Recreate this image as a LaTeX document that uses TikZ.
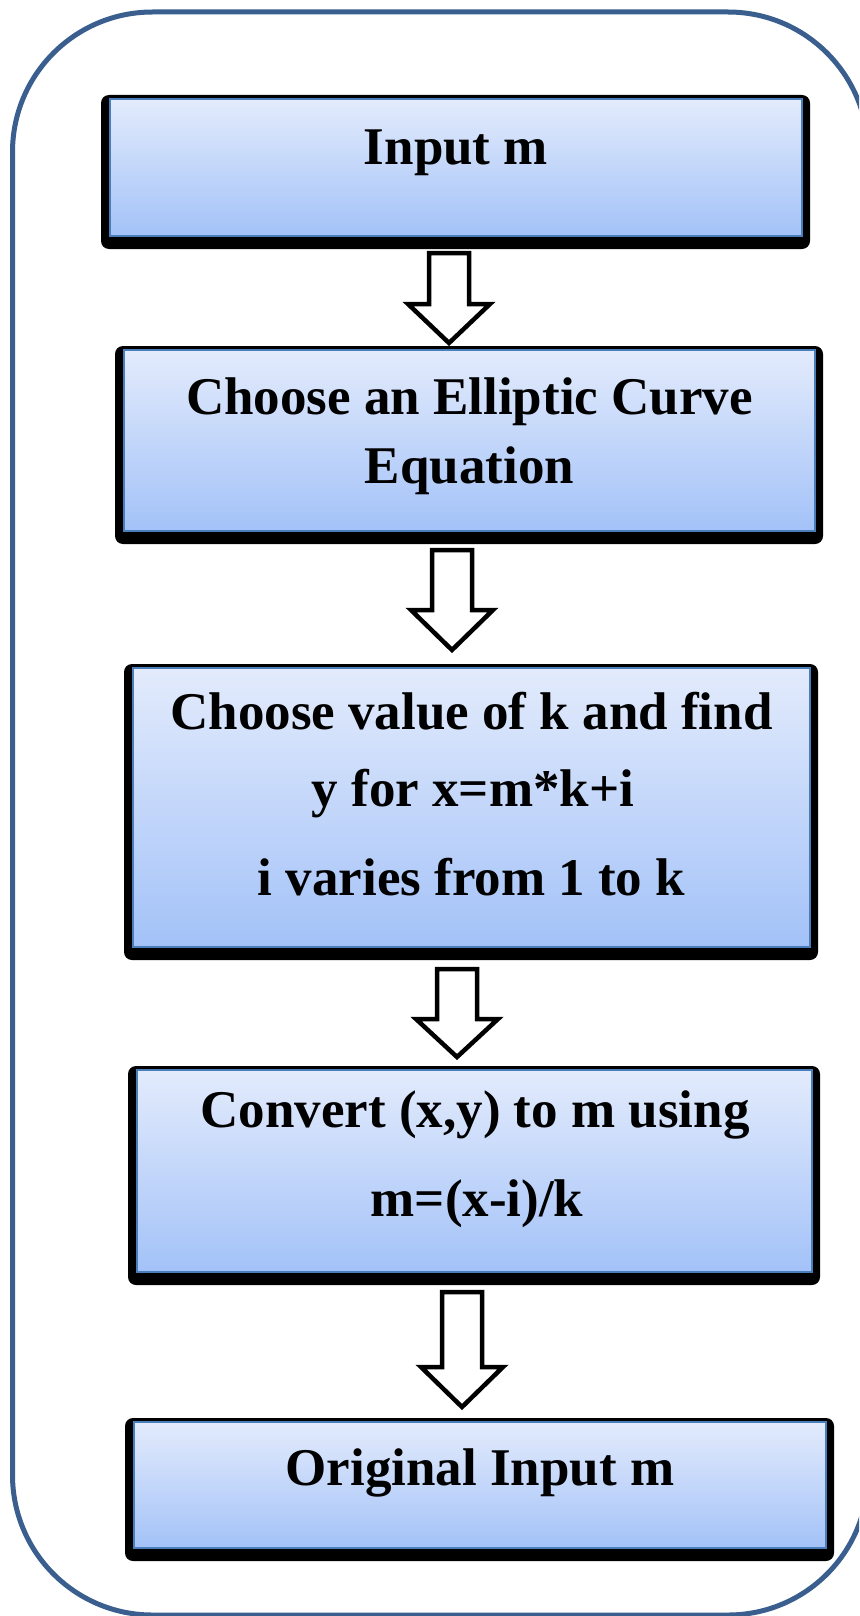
\documentclass[tikz,border=0pt]{standalone}
\usepackage{fontspec}
\setmainfont{Liberation Serif}
\usetikzlibrary{backgrounds}
\definecolor{framecol}{HTML}{3A5F8E}
\definecolor{boxline}{HTML}{4A7EBB}
\definecolor{boxtop}{HTML}{E3EBFC}
\definecolor{boxbot}{HTML}{A3C2F8}
\tikzset{
  frame/.style={draw=framecol, line width=5pt, rounded corners=140pt},
  stepbox/.style={draw=boxline, line width=2pt, top color=boxtop, bottom color=boxbot, inner sep=0pt},
  boxshadow/.style={fill=black, rounded corners=8pt},
  lbl/.style={font=\bfseries\fontsize{53}{60}\selectfont, text=black, inner sep=0pt, anchor=base},
  flowarrow/.style={draw=black, fill=white, line width=4.5pt, line join=miter},
}
% hollow block arrow pointing down: centre x, top, start of head, tip
\newcommand{\flowdown}[4]{%
  \draw[flowarrow] (#1-20,#2) -- (#1+20,#2) -- (#1+20,#3) -- (#1+41,#3)
    -- (#1,#4) -- (#1-41,#3) -- (#1-20,#3) -- cycle;}
% black drop frame behind a step box
\newcommand{\boxback}[1]{%
  \fill[boxshadow] ([xshift=-8pt,yshift=3pt]#1.north west) rectangle ([xshift=7pt,yshift=-12pt]#1.south east);}
\begin{document}
\begin{tikzpicture}[x=1pt,y=-1pt]
\clip (0,0) rectangle (859,1616);

% surrounding rounded frame
\draw[frame] (12.5,12) rectangle (868,1615);

% steps
\node[stepbox, minimum width=692pt, minimum height=137pt] (b1) at (456,167.5) {};
\node[stepbox, minimum width=691pt, minimum height=181pt] (b2) at (469.5,440.5) {};
\node[stepbox, minimum width=677pt, minimum height=279pt] (b3) at (471.5,807.5) {};
\node[stepbox, minimum width=675pt, minimum height=202pt] (b4) at (474.5,1171) {};
\node[stepbox, minimum width=692pt, minimum height=126pt] (b5) at (480,1485) {};

\begin{scope}[on background layer]
  \fill[white] (0,0) rectangle (859,1616);
  \boxback{b1}
  \boxback{b2}
  \boxback{b3}
  \boxback{b4}
  \boxback{b5}
\end{scope}

% labels
\node[lbl] (t1) at (456,165) {Input m};
\node[lbl] (t2a) at (469.5,414) {Choose an Elliptic Curve};
\node[lbl] (t2b) at (469.5,483) {Equation};
\node[lbl] (t3a) at (471.5,729) {Choose value of k and find};
\node[lbl] (t3b) at (473,806) {y for x=m*k+i};
\node[lbl] (t3c) at (471.5,895) {i varies from 1 to k};
\node[lbl] (t4a) at (475,1127) {Convert (x,y) to m using};
\node[lbl] (t4b) at (477,1216) {m=(x-i)/k};
\node[lbl] (t5) at (480,1485) {Original Input m};

% arrows between the steps
\flowdown{449}{253}{304}{343}
\flowdown{452}{550}{610}{650}
\flowdown{457}{969}{1019}{1057}
\flowdown{462}{1292}{1367}{1407}
\end{tikzpicture}
\end{document}
